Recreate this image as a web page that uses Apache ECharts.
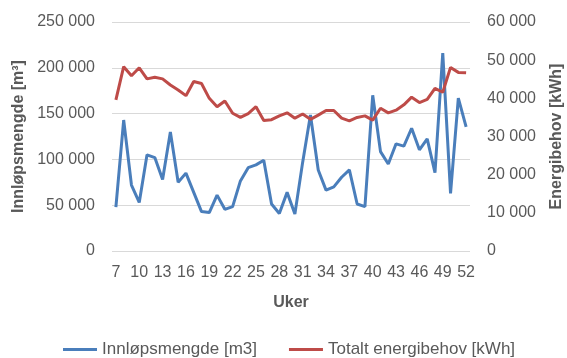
<!DOCTYPE html>
<html>
<head>
<meta charset="utf-8">
<script src="https://cdn.jsdelivr.net/npm/echarts@6/dist/echarts.min.js"></script>
<style>
  html, body { margin: 0; padding: 0; background: #ffffff; }
  #chart { width: 567px; height: 358px; }
</style>
</head>
<body>
<div id="chart"></div>
<script>
// Weeks 7..52
const weeks = [7,8,9,10,11,12,13,14,15,16,17,18,19,20,21,22,23,24,25,26,27,28,29,30,31,32,33,34,35,36,37,38,39,40,41,42,43,44,45,46,47,48,49,50,51,52];

// Innløpsmengde [m3] per week
const inflow = [48000,143000,72000,53000,105000,102000,78000,130000,75000,85000,64000,43000,42000,61000,45500,48500,76500,91000,94000,99000,51300,41000,64000,40500,97000,148500,88500,66500,70000,80500,88500,51300,48500,170000,108500,95000,117000,114500,134000,110500,122500,85500,216000,63000,167000,135500];

// Totalt energibehov [kWh] per week
const energy = [39600,48300,45900,48000,45100,45500,45100,43500,42200,40700,44400,43900,40000,37800,39300,36100,35000,36000,37800,34200,34400,35400,36200,34800,35900,34500,35600,36800,36800,34800,34100,35000,35400,34300,37400,36200,36900,38300,40300,38900,39700,42600,41600,48100,46800,46700];

const leftTicks = { min: 0, max: 250000, interval: 50000 };
const rightTicks = { min: 0, max: 60000, interval: 10000 };

const fontFamily = '"Liberation Sans", Arial, sans-serif';
const textGrey = '#595959';
const fmt = v => String(v).replace(/\B(?=(\d{3})+(?!\d))/g, ' ');

const chart = echarts.init(document.getElementById('chart'), null, { renderer: 'canvas' });
chart.setOption({
  animation: false,
  backgroundColor: '#ffffff',
  textStyle: { fontFamily: fontFamily },
  grid: { left: 112, right: 97, top: 22, bottom: 107, containLabel: false, outerBoundsMode: 'none' },
  legend: {
    top: 336,
    left: 58,
    itemWidth: 34,
    itemHeight: 3,
    itemGap: 32,
    icon: 'rect',
    textStyle: { color: textGrey, fontSize: 17, fontFamily: fontFamily },
    data: ['Innløpsmengde [m3]', 'Totalt energibehov [kWh]']
  },
  xAxis: {
    type: 'category',
    data: weeks,
    boundaryGap: true,
    name: 'Uker',
    nameLocation: 'middle',
    nameGap: 44,
    nameTextStyle: { color: textGrey, fontSize: 16, fontWeight: 'bold', fontFamily: fontFamily },
    axisLine: { show: false },
    axisTick: { show: false },
    axisLabel: { interval: 2, color: textGrey, fontSize: 16, margin: 14, fontFamily: fontFamily },
    splitLine: { show: false }
  },
  yAxis: [
    {
      type: 'value',
      min: leftTicks.min, max: leftTicks.max, interval: leftTicks.interval,
      name: 'Innløpsmengde [m³]',
      nameLocation: 'middle',
      nameGap: 72,
      nameRotate: 90,
      nameTextStyle: { color: textGrey, fontSize: 16, fontWeight: 'bold', fontFamily: fontFamily },
      axisLine: { show: false },
      axisTick: { show: false },
      axisLabel: { color: textGrey, fontSize: 16, margin: 17, formatter: fmt, fontFamily: fontFamily },
      splitLine: { show: true, lineStyle: { color: '#d9d9d9', width: 1 } }
    },
    {
      type: 'value',
      position: 'right',
      min: rightTicks.min, max: rightTicks.max, interval: rightTicks.interval,
      name: 'Energibehov [kWh]',
      nameLocation: 'middle',
      nameGap: 79,
      nameRotate: 90,
      nameTextStyle: { color: textGrey, fontSize: 16, fontWeight: 'bold', fontFamily: fontFamily },
      axisLine: { show: false },
      axisTick: { show: false },
      axisLabel: { color: textGrey, fontSize: 16, margin: 17, formatter: fmt, fontFamily: fontFamily },
      splitLine: { show: false }
    }
  ],
  series: [
    {
      name: 'Innløpsmengde [m3]',
      type: 'line',
      yAxisIndex: 0,
      data: inflow,
      symbol: 'none',
      lineStyle: { color: '#4a7ebb', width: 3 },
      itemStyle: { color: '#4a7ebb' }
    },
    {
      name: 'Totalt energibehov [kWh]',
      type: 'line',
      yAxisIndex: 1,
      data: energy,
      symbol: 'none',
      lineStyle: { color: '#be4b48', width: 3 },
      itemStyle: { color: '#be4b48' }
    }
  ]
});
</script>
</body>
</html>
